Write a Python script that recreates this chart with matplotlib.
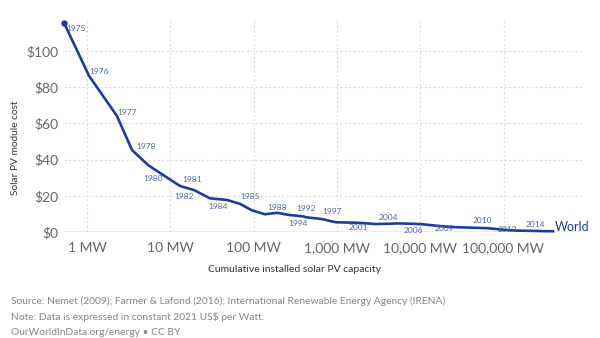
import numpy as np
import matplotlib
matplotlib.use("Agg")
import matplotlib.pyplot as plt
from matplotlib.ticker import FixedLocator, NullLocator

plt.rcParams['font.family'] = ['Lato', 'DejaVu Sans']

# data: cumulative installed capacity (MW) and module cost (2021 US$ per W)
years = list(range(1975, 2018))
capacity_mw = [0.53, 1.06, 2.29, 3.47, 5.4, 8.2, 13.1, 19.2, 30, 48,
               69, 96, 137, 191, 238, 281, 332, 392, 437, 489,
               577, 700, 826, 975, 1150, 1440, 1790, 2300, 2940, 3990,
               5260, 7140, 9950, 15500, 22800, 39600, 65200, 96000, 137000, 181000,
               232000, 298000, 393000]
cost_usd = [115.5, 86.2, 64.1, 45.3, 37.0, 31.5, 25.4, 23.2, 18.6, 17.7,
            15.5, 11.9, 9.8, 10.6, 9.8, 9.3, 9.0, 8.6, 8.1, 7.8,
            7.5, 6.9, 6.1, 5.4, 5.3, 5.2, 5.1, 4.75, 4.4, 4.5,
            4.75, 4.6, 4.4, 3.5, 2.8, 2.4, 2.1, 1.3, 0.8, 0.7,
            0.6, 0.48, 0.42]

labeled_years = [1975, 1976, 1977, 1978, 1980, 1981, 1982, 1984, 1985, 1988,
                 1992, 1994, 1997, 2001, 2004, 2006, 2009, 2010, 2013, 2014]
# label offsets in pixels (dx right, dy down)
label_offsets = {1975: (12, 6), 1976: (10, -4), 1977: (10, -3), 1978: (14, -4),
                 1980: (-10.5, 4), 1981: (11.5, -7), 1982: (-9.5, 6), 1984: (-9.5, 7),
                 1985: (9.5, -7), 1988: (0, -5.5), 1992: (3, -8), 1994: (-13.5, 5.5),
                 1997: (2.5, -9), 2001: (0, 5), 2004: (1, -6.5), 2006: (5.5, 6.4),
                 2009: (-6, 1.3), 2010: (12, -6.7), 2013: (-7.5, -1.3), 2014: (10.5, -6.4)}

xticks = [1, 10, 100, 1000, 10000, 100000]
xticklabels = ['1 MW', '10 MW', '100 MW', '1,000 MW', '10,000 MW', '100,000 MW']
yticks = [0, 20, 40, 60, 80, 100]
yticklabels = ['$0', '$20', '$40', '$60', '$80', '$100']

W, H = 600, 338
fig = plt.figure(figsize=(6, 3.38), dpi=100)
ax_left, ax_right, ax_top, ax_bottom = 64, 582, 18, 232
ax = fig.add_axes([ax_left / W, 1 - ax_bottom / H, (ax_right - ax_left) / W, (ax_bottom - ax_top) / H])

px_decade = 83.3
x0 = 87  # pixel of 1 MW
ax.set_xscale('log')
ax.set_xlim(10 ** ((ax_left - x0) / px_decade), 10 ** ((ax_right - x0) / px_decade))
ax.set_ylim(0, (ax_bottom - ax_top) / 1.81)

line_col = '#1d3d9a'
lab_col = '#4866a8'
ax.plot(capacity_mw, cost_usd, color=line_col, lw=1.9, solid_joinstyle='round', zorder=3, clip_on=False)
ax.plot(capacity_mw[0], cost_usd[0], 'o', color=line_col, ms=3.6, zorder=4, clip_on=False)

for y in labeled_years:
    i = years.index(y)
    dx, dy = label_offsets[y]
    ax.annotate(str(y), (capacity_mw[i], cost_usd[i]), xytext=(dx, -dy), textcoords='offset pixels',
                ha='center', va='center', fontsize=6, color=lab_col, zorder=5, annotation_clip=False)

ax.annotate('World', (capacity_mw[-1], cost_usd[-1]), xytext=(2, 4), textcoords='offset pixels',
            ha='left', va='center', fontsize=9, color=line_col, annotation_clip=False)

for t in yticks[1:]:
    ax.axhline(t, color='#dcdcdc', lw=0.8, ls=(0, (2, 2)), zorder=1)
for t in xticks:
    ax.axvline(t, color='#dcdcdc', lw=0.8, ls=(0, (2, 2)), zorder=1)
ax.axhline(0, color='#a0a0a0', lw=1, zorder=2)

for s in ax.spines.values():
    s.set_visible(False)
ax.xaxis.set_major_locator(FixedLocator(xticks))
ax.xaxis.set_minor_locator(NullLocator())
ax.set_xticklabels(xticklabels)
ax.set_yticks(yticks)
ax.set_yticklabels(yticklabels)
ax.tick_params(axis='both', length=0, labelsize=10, labelcolor='#666666')
ax.tick_params(axis='x', pad=7)
ax.tick_params(axis='y', pad=4)

fig.text(16 / W, 1 - 148 / H, 'Solar PV module cost', rotation=90, ha='center', va='center',
         fontsize=7.3, color='#333333')
fig.text(295 / W, 1 - 270 / H, 'Cumulative installed solar PV capacity', ha='center', va='center',
         fontsize=7.5, color='#333333')

notes = ['Source: Nemet (2009); Farmer & Lafond (2016); International Renewable Energy Agency (IRENA)',
         'Note: Data is expressed in constant 2021 US$ per Watt.',
         'OurWorldInData.org/energy \u2022 CC BY']
for txt, ypx in zip(notes, [301.6, 317.4, 332.7]):
    fig.text(10.7 / W, 1 - ypx / H, txt, ha='left', va='center', fontsize=7.4, color='#858585')

fig.savefig('out.png', dpi=100, facecolor='white')
